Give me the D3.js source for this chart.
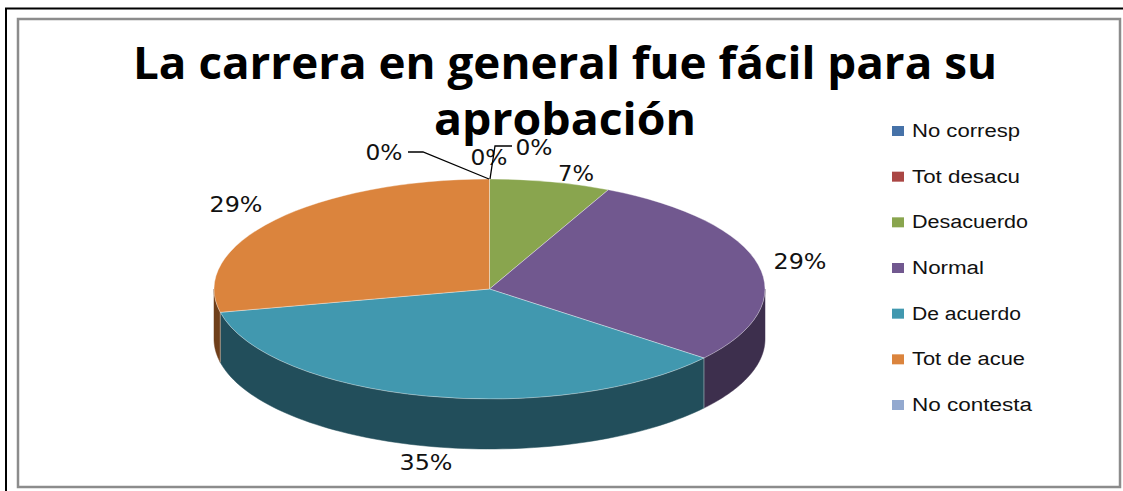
<!DOCTYPE html>
<html><head><meta charset="utf-8">
<script src="https://cdn.jsdelivr.net/npm/d3@7/dist/d3.min.js"></script>
<style>html,body{margin:0;padding:0;background:#fff}svg{display:block}</style>
</head><body><svg id="c" width="1123" height="491"></svg>
<script>
const categories = ["No corresp","Tot desacu","Desacuerdo","Normal","De acuerdo","Tot de acue","No contesta"];
const values = [0,0,7.1,28.7,35.8,28.4,0];
const percentLabels = ["0%","0%","7%","29%","35%","29%","0%"];
const topColors = ["#4672a8","#aa4644","#89a54e","#71588f","#4198af","#db843d","#93a9cf"];
const wallColors = ["#2a4464","#662a29","#52632e","#3d2f4d","#224e5b","#6f3f1a","#586578"];
const titleLines = ["La carrera en general fue fácil para su","aprobación"];

const W = {cx:489.5, cy:289, rx:275.5, ry:110, depth:50};
const svg = d3.select("#c");

// frames
svg.append("rect").attr("x",6).attr("y",8.5).attr("width",1130).attr("height",500)
  .attr("fill","none").attr("stroke","#000").attr("stroke-width",2);
svg.append("rect").attr("x",18).attr("y",19).attr("width",1102).attr("height",468)
  .attr("fill","#fff").attr("stroke","#8c8c8c").attr("stroke-width",2.5);

// title
const titleW = [864,262];
svg.append("g").selectAll("text").data(titleLines).join("text")
  .attr("x",565).attr("y",(d,i)=>79+i*56)
  .attr("text-anchor","middle")
  .attr("font-family","'Open Sans'").attr("font-weight","bold").attr("font-size",44)
  .attr("textLength",(d,i)=>titleW[i]).attr("lengthAdjust","spacingAndGlyphs")
  .attr("fill","#000").text(d=>d);

// pie
const pie = d3.pie().sort(null).value(d=>d)(values);
const scaleX = d3.scaleLinear().domain([-1,1]).range([W.cx-W.rx,W.cx+W.rx]);
const scaleY = d3.scaleLinear().domain([-1,1]).range([W.cy-W.ry,W.cy+W.ry]);
const px = a => scaleX(Math.sin(a));
const py = a => scaleY(-Math.cos(a));

// walls: visible lower half only
const g = svg.append("g");
const lo = Math.PI/2, hi = 3*Math.PI/2;
pie.forEach((s,i)=>{
  const a0 = Math.max(s.startAngle,lo), a1 = Math.min(s.endAngle,hi);
  if(a1<=a0) return;
  const n = 80;
  const t = d3.scaleLinear().domain([0,n]).range([a0,a1]);
  const arcPts = d3.range(n+1).map(k=>[px(t(k)),py(t(k))]);
  const pts = arcPts.concat(arcPts.slice().reverse().map(p=>[p[0],p[1]+W.depth]));
  g.append("path").attr("d",d3.line()(pts)+"Z").attr("fill",wallColors[i])
    .attr("stroke",wallColors[i]).attr("stroke-width",0.5);
});
// light seams on visible wall edges
pie.forEach(s=>{
  if(s.value>0 && s.endAngle>lo && s.endAngle<hi){
    g.append("line").attr("x1",px(s.endAngle)).attr("y1",py(s.endAngle))
      .attr("x2",px(s.endAngle)).attr("y2",py(s.endAngle)+W.depth)
      .attr("stroke","#fff").attr("stroke-opacity",.4).attr("stroke-width",1);
  }
});
// tops via d3.arc, squashed
const arc = d3.arc().innerRadius(0).outerRadius(W.rx);
g.append("g").attr("transform",`translate(${W.cx},${W.cy}) scale(1,${W.ry/W.rx})`)
  .selectAll("path").data(pie.filter(d=>d.value>0)).join("path")
  .attr("d",arc).attr("fill",d=>topColors[d.index])
  .attr("stroke","#fff").attr("stroke-opacity",.45).attr("stroke-width",.8)
  .attr("vector-effect","non-scaling-stroke");

// data labels
const labelPos = [[489,165],[534,155],[576,181],[800,269],[426,470],[236,212],[384,160]];
const labelW = [37,37,36,53,53,53,37];
svg.append("g").selectAll("text").data(percentLabels).join("text")
  .attr("x",(d,i)=>labelPos[i][0]).attr("y",(d,i)=>labelPos[i][1])
  .attr("text-anchor","middle").attr("font-family","'DejaVu Sans'").attr("font-size",21)
  .attr("textLength",(d,i)=>labelW[i]).attr("lengthAdjust","spacingAndGlyphs")
  .attr("fill","#111").text(d=>d);

// leader lines
const leaders = [[[408,152],[423,152],[489,179]],[[512,146],[495,146],[490,179]]];
svg.append("g").selectAll("path").data(leaders).join("path")
  .attr("d",d3.line()).attr("fill","none").attr("stroke","#000").attr("stroke-width",1.3);

// legend
const ly = d3.scaleLinear().domain([0,6]).range([131,405]);
const legendW = [108,108,116,72,109,113,120];
const lg = svg.append("g").selectAll("g").data(categories).join("g");
lg.append("rect").attr("x",892).attr("y",(d,i)=>ly(i)-5).attr("width",12).attr("height",10)
  .attr("fill",(d,i)=>topColors[i]);
lg.append("text").attr("x",912).attr("y",(d,i)=>ly(i)+6)
  .attr("font-family","'Liberation Sans'").attr("font-size",18)
  .attr("textLength",(d,i)=>legendW[i]).attr("lengthAdjust","spacingAndGlyphs")
  .attr("fill","#111").text(d=>d);
</script></body></html>
